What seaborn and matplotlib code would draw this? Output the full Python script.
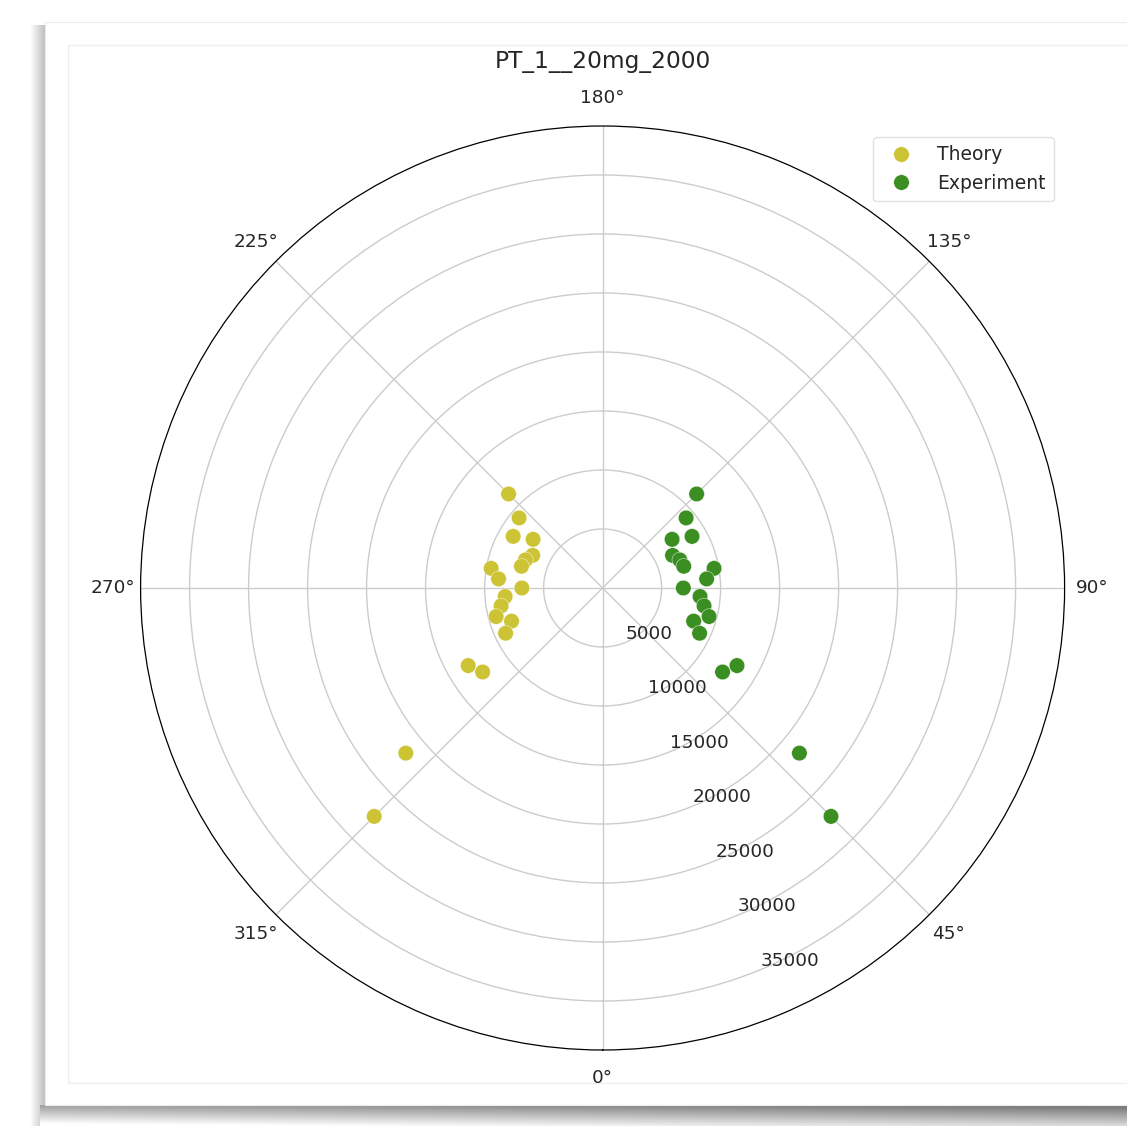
import numpy as np
import pandas as pd
import matplotlib
matplotlib.use("Agg")
import matplotlib.pyplot as plt
import seaborn as sns
from matplotlib.patches import Rectangle

sns.set_style("whitegrid")
plt.rcParams['font.family'] = ['DejaVu Sans']

# --- Data ---
exp_angles_deg = [135, 130, 125, 120, 115, 110, 105, 100, 95, 90,
                  85, 80, 75, 70, 65, 60, 55, 50, 45]
exp_radius = [11270, 9240, 7190, 8750, 6540, 6960, 7120, 9590, 8850, 6840,
              8290, 8730, 9340, 8210, 9070, 13150, 12410, 21770, 27370]
theory_angles_deg = [360 - a for a in exp_angles_deg]
theory_radius = list(exp_radius)

r_ticks = [5000, 10000, 15000, 20000, 25000, 30000, 35000]
r_max = 39150
title = "PT_1__20mg_2000"
colors = {"Theory": "#cdc435", "Experiment": "#3b8e22"}

df = pd.concat([
    pd.DataFrame({"theta": np.deg2rad(theory_angles_deg), "r": theory_radius, "series": "Theory"}),
    pd.DataFrame({"theta": np.deg2rad(exp_angles_deg), "r": exp_radius, "series": "Experiment"}),
], ignore_index=True)

W, H = 1127, 1126
fig = plt.figure(figsize=(W / 100, H / 100), dpi=100)
fig.patch.set_facecolor("white")

# --- screenshot-like frame with drop shadow ---
bg = fig.add_axes([0, 0, 1, 1], zorder=-10)
left_grad = np.linspace(1.0, 0.75, 40).reshape(1, -1)
bg.imshow(left_grad, cmap="gray", vmin=0, vmax=1, extent=(30, 45, H, 25), aspect="auto")
bot = np.linspace(0.5, 0.92, 40).reshape(-1, 1) * np.ones((1, 200))
bot = bot + np.linspace(0.12, -0.06, 200).reshape(1, -1)
bg.imshow(np.clip(bot, 0, 1), cmap="gray", vmin=0, vmax=1, extent=(40, W, H, 1105), aspect="auto")
bg.add_patch(Rectangle((45, 22), W - 45, 1083, facecolor="white", edgecolor="#ececec", lw=0.8))
bg.add_patch(Rectangle((68, 45), W, 1038, facecolor="none", edgecolor="#efefef", lw=1))
bg.set_xlim(0, W)
bg.set_ylim(H, 0)
bg.axis("off")

# --- polar chart ---
cx, cy, rad = 602.6, 588, 462
ax = fig.add_axes([(cx - rad) / W, (H - cy - rad) / H, 2 * rad / W, 2 * rad / H],
                  projection="polar")
ax.set_theta_zero_location("S")
ax.set_theta_direction(1)

sns.scatterplot(data=df, x="theta", y="r", hue="series", palette=colors,
                s=125, linewidth=0.3, edgecolor="white", ax=ax)

ax.set_ylim(0, r_max)
ax.set_yticks(r_ticks)
ax.set_xticks(np.deg2rad(np.arange(0, 360, 45)))
ax.set_xlabel("")
ax.set_ylabel("")
ax.tick_params(labelsize=13.3, colors="#262626")
ax.tick_params(axis="x", pad=9.5)
ax.grid(True, color="#cccccc", lw=1)
ax.spines["polar"].set_color("black")
ax.spines["polar"].set_linewidth(0.9)
title_y = (H - 76 - (H - cy - rad)) / (2 * rad)
ax.set_title(title, fontsize=16.8, color="#262626", y=title_y, va="baseline")

handles, labels = ax.get_legend_handles_labels()
ax.legend(handles, labels, loc="upper right", fontsize=13.5,
          bbox_to_anchor=(1054 / W, 1 - 137 / H), bbox_transform=fig.transFigure,
          borderaxespad=0, frameon=True, edgecolor="#d9d9d9",
          borderpad=0.45, handlelength=2.0, handletextpad=0.95)

fig.savefig("out.png", dpi=100)
